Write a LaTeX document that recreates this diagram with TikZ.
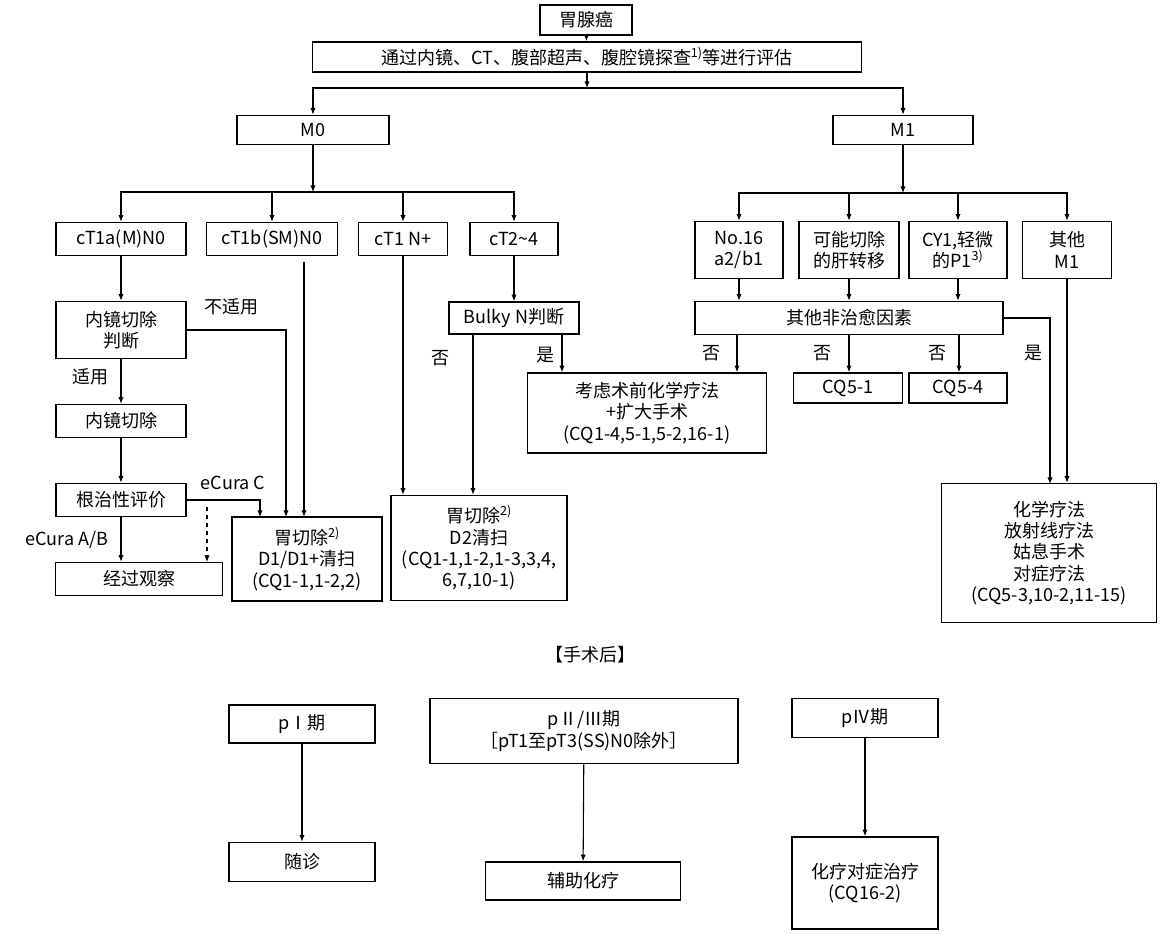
\documentclass[tikz,border=0pt]{standalone}
\usepackage{fontspec}
\setmainfont{Noto Sans CJK SC}
\usetikzlibrary{positioning}
\usetikzlibrary{arrows.meta}
\tikzset{
box/.style={rectangle, draw=black, line width=1.2pt, align=center, inner sep=1pt, font=\fontsize{13.5}{16}\selectfont},
sz/.style 2 args={minimum width=#1*0.75pt, minimum height=#2*0.75pt},
arr/.style={-{Latex[length=5pt,width=4pt]}, line width=0.8pt},
lbl/.style={font=\fontsize{13.5}{16}\selectfont},
}
\begin{document}
\begin{tikzpicture}[x=0.75pt,y=-0.75pt]
\useasboundingbox (0,0) rectangle (1175,934);
%Nodes
\node[box, sz={92}{30}]		(top)	at (586,20)		{胃腺癌};
\node[box, sz={549}{30}]	(eval)	at (587,57)		{通过内镜、CT、腹部超声、腹腔镜探查\textsuperscript{1)}等进行评估};
\node[box, sz={152}{29}]	(mzero)	at (313,130)	{M0};
\node[box, sz={140}{29}]	(mone)	at (903,130)	{M1};
\node[box, sz={130}{33}]	(tonea)	at (121,239)	{cT1a(M)N0};
\node[box, sz={131}{33}]	(toneb)	at (272,239)	{cT1b(SM)N0};
\node[box, sz={89}{33}]		(tonen)	at (403,239)	{cT1 N+};
\node[box, sz={88}{33}]		(ttwo)	at (514,239)	{cT2\textasciitilde4};
\node[box, sz={130}{32}]	(bulky)	at (514,318)	{Bulky N判断};
\node[box, sz={130}{57}]	(esdjudge)	at (121,330)	{内镜切除\\判断};
\node[box, sz={130}{33}]	(esd)	at (121,421)	{内镜切除};
\node[box, sz={130}{33}]	(cure)	at (121,500)	{根治性评价};
\node[box, sz={167}{33}]	(obs)	at (139,579)	{经过观察};
\node[box, sz={150}{84}]	(gastone)	at (307,559)	{胃切除\textsuperscript{2)}\\D1/D1+清扫\\(CQ1-1,1-2,2)};
\node[box, sz={176}{105}]	(gasttwo)	at (479,548)	{胃切除\textsuperscript{2)}\\D2清扫\\(CQ1-1,1-2,1-3,3,4,\\6,7,10-1)};
\node[box, sz={239}{80}]	(preop)	at (647,413)	{考虑术前化学疗法\\+扩大手术\\(CQ1-4,5-1,5-2,16-1)};
\node[box, sz={88}{57}]		(nosixteen)	at (739,250)	{No.16\\a2/b1};
\node[box, sz={100}{57}]	(liver)	at (849,250)	{可能切除\\的肝转移};
\node[box, sz={98}{57}]		(cyone)	at (958,250)	{CY1,轻微\\的P1\textsuperscript{3)}};
\node[box, sz={89}{57}]		(other)	at (1067,250)	{其他\\M1};
\node[box, sz={308}{33}]	(noncur)	at (849,318)	{其他非治愈因素};
\node[box, sz={109}{30}]	(cqone)	at (848,388)	{CQ5-1};
\node[box, sz={98}{30}]		(cqfour)	at (958,388)	{CQ5-4};
\node[box, sz={215}{139}]	(chemo)	at (1049,553)	{化学疗法\\放射线疗法\\姑息手术\\对症疗法\\(CQ5-3,10-2,11-15)};
\node[lbl]					(post)	at (590,655)	{【手术后】};
\node[box, sz={146}{38}]	(pone)	at (302,724)	{pⅠ期};
\node[box, sz={146}{39}]	(follow)	at (302,862)	{随诊};
\node[box, sz={308}{65}]	(ptwo)	at (584,731)	{pⅡ/Ⅲ期\\［pT1至pT3(SS)N0除外］};
\node[box, sz={195}{38}]	(adjuv)	at (583,881)	{辅助化疗};
\node[box, sz={146}{39}]	(pfour)	at (865,718)	{pⅣ期};
\node[box, sz={146}{92}]	(sympt)	at (865,883)	{化疗对症治疗\\(CQ16-2)};

%Branch points
\coordinate (splitone)	at (587,88);
\coordinate (splittwo)	at (313,192);
\coordinate (splitthree)	at (903,193);
\coordinate (notfit)	at (286,517);
\coordinate (tbstart)	at (304,262);
\coordinate (tbend)		at (304,517);
\coordinate (ecurac)	at (260,517);
\coordinate (dashtop)	at (207,507);
\coordinate (dashend)	at (207,562);
\coordinate (bulkyno)	at (473,334);
\coordinate (bulkyyes)	at (562,334);
\coordinate (noncurno)	at (737,335);
\coordinate (noncurfour)	at (959,335);
\coordinate (noncuryes)	at (1050,484);

%Lines
\draw[arr] (top) -- (eval);
\draw[arr] (eval) -- (splitone);
\draw[arr] (splitone) -| (mzero.north);
\draw[arr] (splitone) -| (mone.north);
\draw[arr] (mzero) -- (splittwo);
\foreach \n in {tonea,toneb,tonen,ttwo} \draw[arr] (splittwo) -| (\n.north);
\draw[arr] (mone) -- (splitthree);
\foreach \n in {nosixteen,liver,cyone,other} \draw[arr] (splitthree) -| (\n.north);
\draw[arr] (tonea) -- (esdjudge);
\draw[arr] (esdjudge) -- node[lbl, left=6pt, pos=0.4] {适用} (esd);
\draw[arr] (esd) -- (cure);
\draw[arr] (cure.south) -- node[lbl, left=6pt] {eCura A/B} (cure.south |- obs.north);
\draw[arr] (esdjudge.east) -| (notfit);
\node[lbl] (notfitlbl) at (231,307) {不适用};
\draw[arr] (tbstart) -- (tbend);
\draw[arr] (cure.east) -| (ecurac);
\node[lbl] (ecuralbl) at (233,483) {eCura C};
\draw[arr, dashed] (dashtop) -- (dashend);
\draw[arr] (tonen) -- (tonen.south |- gasttwo.north);
\node[lbl] (tnnolbl) at (440,358) {否};
\draw[arr] (ttwo) -- (bulky);
\draw[arr] (bulkyno) -- (bulkyno |- gasttwo.north);
\draw[arr] (bulkyyes) -- (bulkyyes |- preop.north);
\node[lbl] (bulkyyeslbl) at (545,355) {是};
\foreach \n in {nosixteen,liver,cyone} \draw[arr] (\n.south) -- (\n.south |- noncur.north);
\draw[arr] (noncurno) -- (noncurno |- preop.north);
\draw[arr] (noncur.south) -- (noncur.south |- cqone.north);
\draw[arr] (noncurfour) -- (noncurfour |- cqfour.north);
\node[lbl] (noone) at (711,353) {否};
\node[lbl] (notwo) at (822,353) {否};
\node[lbl] (nothree) at (937,353) {否};
\draw[arr] (noncur.east) -| (noncuryes);
\node[lbl] (yeslbl) at (1033,353) {是};
\draw[arr] (other.south) -- (other.south |- chemo.north);
\draw[arr] (pone) -- (follow);
\draw[arr] (ptwo) -- (adjuv);
\draw[arr] (pfour) -- (sympt);
\end{tikzpicture}
\end{document}
